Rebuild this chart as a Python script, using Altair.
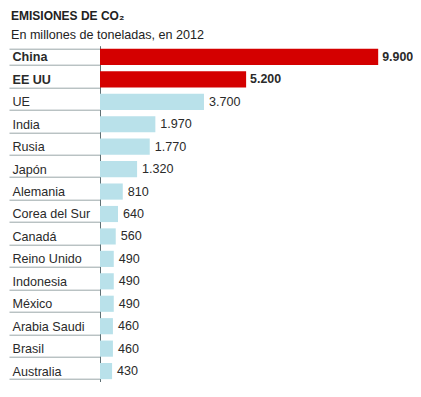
import altair as alt
import pandas as pd

countries = ["China", "EE UU", "UE", "India", "Rusia", "Japón", "Alemania",
             "Corea del Sur", "Canadá", "Reino Unido", "Indonesia", "México",
             "Arabia Saudi", "Brasil", "Australia"]
values = [9900, 5200, 3700, 1970, 1770, 1320, 810, 640, 560, 490, 490, 490, 460, 460, 430]
labels = ["9.900", "5.200", "3.700", "1.970", "1.770", "1.320", "810", "640", "560",
          "490", "490", "490", "460", "460", "430"]
highlight = ["China", "EE UU"]

df = pd.DataFrame({"country": countries, "value": values, "label": labels})
df["hl"] = df["country"].isin(highlight)

FONT = "Liberation Sans"

y_enc = alt.Y(
    "country:N", sort=countries, title=None,
    scale=alt.Scale(paddingInner=0.28, paddingOuter=0.14),
    axis=alt.Axis(
        orient="left", tickBand="extent", tickSize=91, tickColor="#9aa6a8", tickWidth=1,
        domainColor="#5f6f73", domainWidth=1,
        labelAlign="left", labelPadding=-3, labelFont=FONT, labelFontSize=12.6,
        labelColor="#2a2a2a",
        labelFontWeight=alt.condition("datum.value == 'China' || datum.value == 'EE UU'",
                                      alt.value("bold"), alt.value("normal")),
    ),
)
x_enc = alt.X("value:Q", scale=alt.Scale(domain=[0, 10000], nice=False, zero=True), axis=None)
y_plain = alt.Y("country:N", sort=countries)

base = alt.Chart(df)

bars = base.mark_bar().encode(
    x=x_enc, y=y_enc,
    color=alt.Color("hl:N", scale=alt.Scale(domain=[True, False], range=["#d40000", "#b9e1ea"]), legend=None),
)

text_bold = base.transform_filter("datum.hl").mark_text(
    align="left", baseline="middle", dx=4, font=FONT, fontSize=12.4,
    fontWeight="bold", color="#2a2a2a").encode(x=x_enc, y=y_plain, text="label:N")

text_norm = base.transform_filter("!datum.hl").mark_text(
    align="left", baseline="middle", dx=5, font=FONT, fontSize=12.6,
    color="#2a2a2a").encode(x=x_enc, y=y_plain, text="label:N")

chart = alt.layer(bars, text_bold, text_norm).properties(
    width=281, height=336.6,
    padding={"left": 92, "top": 37.7, "right": 32, "bottom": 0},
    autosize=alt.AutoSizeParams(type="none"),
    title=alt.TitleParams(
        text="EMISIONES DE CO₂",
        subtitle="En millones de toneladas, en 2012",
        anchor="start", frame="group", dx=-89, offset=-3,
        font=FONT, fontSize=12, fontWeight="bold", color="#222222",
        subtitleFont=FONT, subtitleFontSize=12.6, subtitleColor="#222222",
        subtitlePadding=6.4,
    ),
).configure_view(stroke=None)

chart.save("out.html", embed_options={"renderer": "svg", "actions": False})
